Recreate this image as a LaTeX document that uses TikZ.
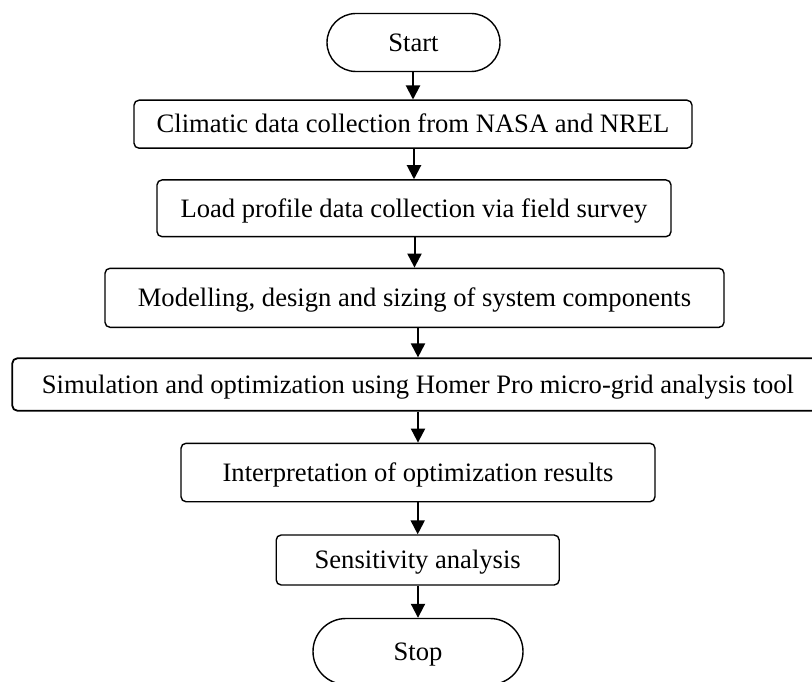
\documentclass[tikz,border=0pt]{standalone}
\usepackage{fontspec}
\setmainfont{Liberation Serif}
\usetikzlibrary{arrows.meta,shapes.misc}
\begin{document}
\begin{tikzpicture}[x=1pt,y=-1pt,
  boxtext/.style={inner sep=0pt, text height=17.6pt, text depth=0pt,
    font=\fontsize{26.6}{30}\selectfont},
  stepbox/.style={boxtext, draw, line width=1.4pt, rounded corners=5pt},
  termbox/.style={boxtext, draw, line width=1.4pt, rounded rectangle},
  flow/.style={line width=2pt, -{Triangle[width=14pt,length=14pt]}}]
\clip (0,0) rectangle (812,682);
\fill[white] (0,0) rectangle (812,682);

\node[termbox, minimum width=173pt, minimum height=58pt] (start) at (413.5,42.5) {Start};
\node[stepbox, minimum width=558pt, minimum height=48pt] (b1) at (413,124.2) {Climatic data collection from NASA and NREL};
\node[stepbox, minimum width=514pt, minimum height=56.7pt] (b2) at (414,208.3) {Load profile data collection via field survey};
\node[stepbox, minimum width=619pt, minimum height=59pt] (b3) at (414.5,297.8) {Modelling, design and sizing of system components};
\node[stepbox, line width=1.8pt, minimum width=811.4pt, minimum height=52.4pt] (b4) at (418,384.5) {Simulation and optimization using Homer Pro micro-grid analysis tool};
\node[stepbox, minimum width=474pt, minimum height=58.4pt] (b5) at (418,472.5) {Interpretation of optimization results};
\node[stepbox, minimum width=283pt, minimum height=50pt] (b6) at (417.7,560) {Sensitivity analysis};
\node[termbox, minimum width=210pt, minimum height=66pt] (stop) at (418,651.5) {Stop};

\draw[flow] (start.south -| b1.north) -- (b1.north);
\draw[flow] (b1.south -| b2.north) -- (b2.north);
\draw[flow] (b2.south -| b3.north) -- (b3.north);
\draw[flow] (b3.south -| b4.north) -- (b4.north);
\draw[flow] (b4.south -| b5.north) -- (b5.north);
\draw[flow] (b5.south -| b6.north) -- (b6.north);
\draw[flow] (b6.south -| stop.north) -- (stop.north);
\end{tikzpicture}
\end{document}
